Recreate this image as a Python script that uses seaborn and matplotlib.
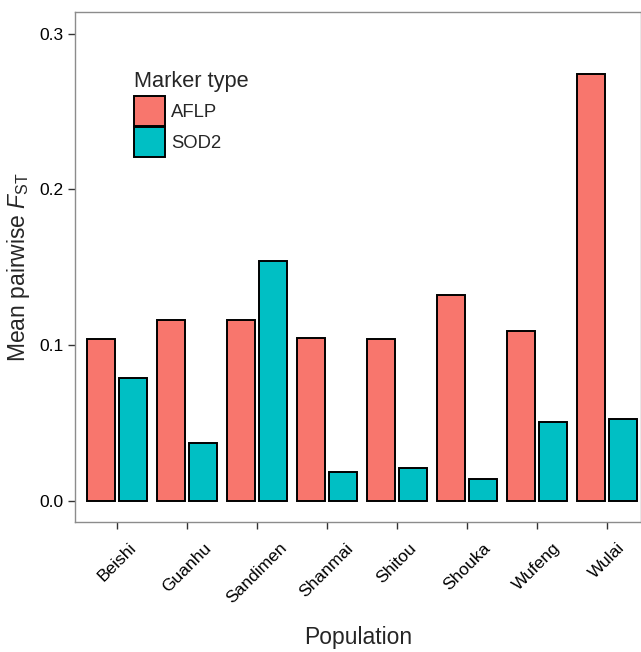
import pandas as pd
import seaborn as sns
import matplotlib.pyplot as plt

populations = ['Beishi', 'Guanhu', 'Sandimen', 'Shanmai', 'Shitou', 'Shouka', 'Wufeng', 'Wulai']
aflp = [0.104, 0.116, 0.116, 0.105, 0.104, 0.132, 0.109, 0.274]
sod2 = [0.079, 0.0375, 0.154, 0.0185, 0.021, 0.0143, 0.0505, 0.053]
markers = ['AFLP', 'SOD2']
colors = ['#F8766D', '#00BFC4']

df = pd.DataFrame({'Population': populations * 2,
                   'Marker type': ['AFLP'] * len(aflp) + ['SOD2'] * len(sod2),
                   'Fst': aflp + sod2})

sns.set_style('white')
plt.rcParams['font.family'] = ['Liberation Sans', 'DejaVu Sans']
plt.rcParams['mathtext.fontset'] = 'custom'
plt.rcParams['mathtext.rm'] = 'Liberation Sans'
plt.rcParams['mathtext.it'] = 'Liberation Sans:italic'

fig = plt.figure(figsize=(6.41, 6.52), dpi=100)
ax = fig.add_axes([0.117, 0.199, 0.883, 0.783])

sns.barplot(x='Population', y='Fst', hue='Marker type', data=df, order=populations,
            hue_order=markers, palette=colors, saturation=1, width=0.914, gap=0.125,
            edgecolor='black', linewidth=1.4, ax=ax)

ax.set_ylim(-0.0135, 0.314)
ax.set_xlim(-0.6, 7.49)
ax.set_yticks([0.0, 0.1, 0.2, 0.3])
ax.set_yticklabels(['0.0', '0.1', '0.2', '0.3'])
ax.tick_params(axis='both', length=5, width=1, color='#333333', labelsize=12.5,
               labelcolor='black', left=True, bottom=True, pad=3)
ax.tick_params(axis='x', pad=8)
plt.setp(ax.get_xticklabels(), rotation=45, ha='center', va='top')

for s in ax.spines.values():
    s.set_color('#8c8c8c')
    s.set_linewidth(1)

ax.set_xlabel('Population', fontsize=16.5, va='center')
ax.xaxis.set_label_coords(0.5, -0.226)
ax.set_ylabel(r'Mean pairwise $\mathit{F}_{\mathrm{ST}}$', fontsize=16.5, va='center')
ax.yaxis.set_label_coords(-0.099, 0.5)

leg = ax.legend(title='Marker type', loc='upper left', bbox_to_anchor=(0.092, 0.898),
                frameon=False, fontsize=13.3, title_fontsize=15.7,
                handlelength=1.68, handleheight=2.12, handletextpad=0.3,
                labelspacing=0.02, borderaxespad=0)
leg._legend_box.align = 'left'
leg._legend_box.sep = 3

fig.savefig('out.png', dpi=100)
